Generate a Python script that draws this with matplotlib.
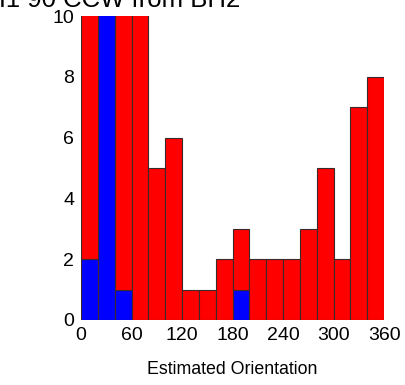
import numpy as np
import matplotlib
matplotlib.use("Agg")
import matplotlib.pyplot as plt

plt.rcParams['font.family'] = ['Liberation Sans', 'DejaVu Sans']

# 20-degree orientation bins, 0..360
bin_edges = list(range(0, 380, 20))
blue_counts = [2, 13, 1, 0, 0, 0, 0, 0, 0, 1, 0, 0, 0, 0, 0, 0, 0, 0]
red_counts = [11, 2, 11, 12, 5, 6, 1, 1, 2, 2, 2, 2, 2, 3, 5, 2, 7, 8]
xticks = [0, 60, 120, 180, 240, 300, 360]
yticks = [0, 2, 4, 6, 8, 10]

fig = plt.figure(figsize=(4.06, 3.85), dpi=100)
ax = fig.add_axes([0.1995, 0.169, 0.7465, 0.789])

left = np.array(bin_edges[:-1])
width = np.diff(bin_edges)
ax.bar(left, blue_counts, width=width, align='edge', color='#0000ff',
       edgecolor='#3a2a2a', linewidth=0.8)
ax.bar(left, red_counts, width=width, bottom=blue_counts, align='edge',
       color='#ff0000', edgecolor='#3a2a2a', linewidth=0.8)

ax.set_xlim(0, 360)
ax.set_ylim(0, 10)
ax.set_xticks(xticks)
ax.set_yticks(yticks)
ax.tick_params(length=0, labelsize=14, pad=5)
for s in ax.spines.values():
    s.set_visible(False)
ax.set_xlabel('Estimated Orientation', fontsize=12.8, labelpad=12)

fig.text(240 / 406, 1 - 7 / 385, 'BH1 90 CCW from BH2', ha='right',
         va='baseline', fontsize=18.5)

fig.savefig('out.png', dpi=100)
